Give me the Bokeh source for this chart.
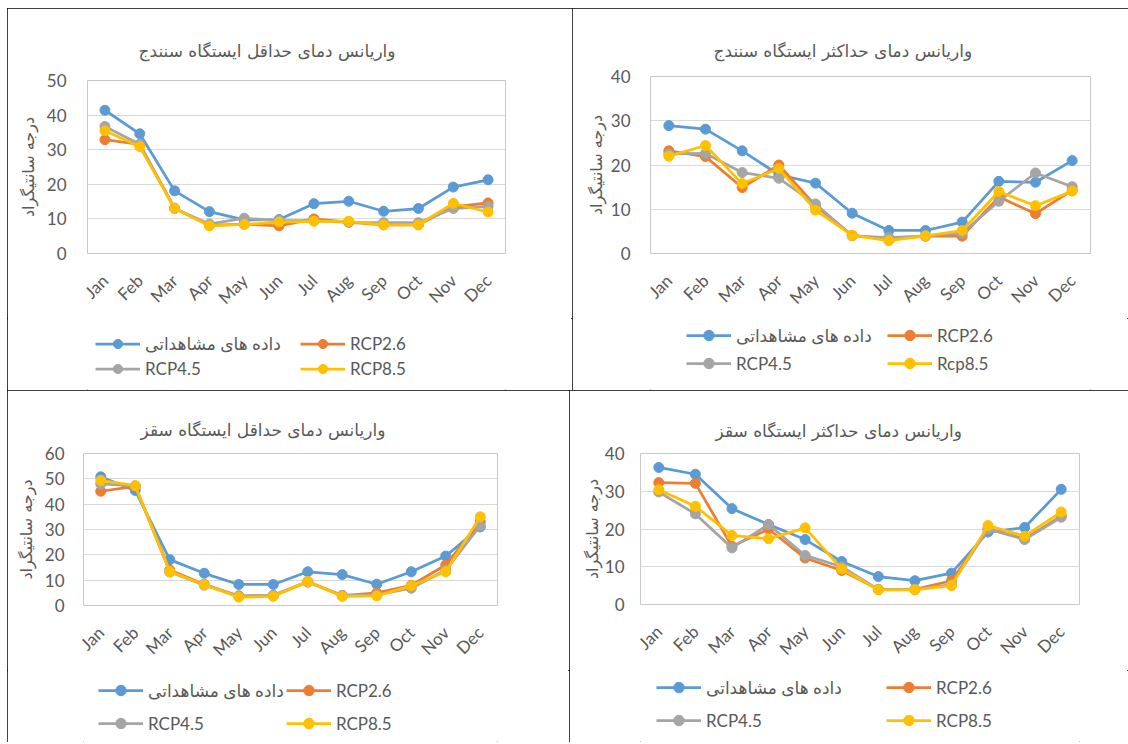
import math
from bokeh.plotting import figure
from bokeh.models import Range1d, FactorRange, Legend, LegendItem, SingleIntervalTicker
from bokeh.layouts import row, column
from bokeh.embed import file_html
from bokeh.resources import INLINE

# ---------------- data ----------------
months = ["Jan", "Feb", "Mar", "Apr", "May", "Jun", "Jul", "Aug", "Sep", "Oct", "Nov", "Dec"]

labels_a = ["داده های مشاهداتی", "RCP2.6", "RCP4.5", "RCP8.5"]
labels_b = ["داده های مشاهداتی", "RCP2.6", "RCP4.5", "Rcp8.5"]
y_label = "درجه سانتیگراد"

title_sanandaj_min = "واریانس دمای حداقل ایستگاه سنندج"
title_sanandaj_max = "واریانس دمای حداکثر ایستگاه سنندج"
title_saqqez_min = "واریانس دمای حداقل ایستگاه سقز"
title_saqqez_max = "واریانس دمای حداکثر ایستگاه سقز"

# Sanandaj - minimum temperature variance
sanandaj_min_obs = [41.4, 34.6, 18.1, 12.1, 9.7, 9.8, 14.4, 15.1, 12.2, 13.0, 19.2, 21.3]
sanandaj_min_rcp26 = [32.9, 31.5, 13.1, 8.1, 8.5, 8.0, 10.0, 9.1, 8.3, 8.3, 13.5, 14.6]
sanandaj_min_rcp45 = [36.7, 31.6, 13.0, 8.5, 10.2, 9.5, 9.5, 9.0, 8.9, 8.9, 13.0, 13.6]
sanandaj_min_rcp85 = [35.5, 30.9, 13.0, 8.0, 8.4, 9.1, 9.3, 9.3, 8.3, 8.3, 14.5, 12.0]

# Sanandaj - maximum temperature variance
sanandaj_max_obs = [28.9, 28.1, 23.2, 17.8, 15.9, 9.1, 5.2, 5.2, 7.1, 16.3, 16.1, 21.0]
sanandaj_max_rcp26 = [23.2, 21.9, 14.9, 20.0, 10.8, 4.1, 3.3, 3.9, 3.9, 12.8, 9.0, 14.3]
sanandaj_max_rcp45 = [22.5, 22.6, 18.3, 17.0, 11.2, 4.0, 3.6, 4.0, 4.6, 11.8, 18.2, 15.1]
sanandaj_max_rcp85 = [22.0, 24.4, 15.8, 19.2, 9.8, 4.1, 2.9, 4.0, 5.2, 14.0, 10.8, 14.1]

# Saqqez - minimum temperature variance
saqqez_min_obs = [50.8, 45.4, 18.1, 12.7, 8.3, 8.3, 13.3, 12.2, 8.4, 13.3, 19.5, 31.0]
saqqez_min_rcp26 = [45.1, 47.0, 14.0, 8.4, 3.7, 4.0, 9.5, 3.9, 5.0, 8.0, 16.0, 33.0]
saqqez_min_rcp45 = [48.0, 47.2, 13.2, 8.0, 3.8, 4.0, 9.2, 4.0, 4.2, 6.8, 14.0, 31.5]
saqqez_min_rcp85 = [49.4, 47.3, 13.4, 8.2, 3.3, 3.6, 9.5, 3.6, 3.8, 7.8, 13.3, 35.0]

# Saqqez - maximum temperature variance
saqqez_max_obs = [36.3, 34.5, 25.4, 21.2, 17.2, 11.4, 7.4, 6.3, 8.3, 19.2, 20.4, 30.5]
saqqez_max_rcp26 = [32.3, 32.1, 15.4, 20.0, 12.3, 9.0, 4.0, 4.0, 6.3, 20.0, 17.4, 23.4]
saqqez_max_rcp45 = [29.8, 24.0, 15.0, 21.2, 13.0, 10.0, 4.0, 4.0, 5.3, 20.0, 17.2, 23.1]
saqqez_max_rcp85 = [30.4, 26.0, 18.3, 17.4, 20.3, 9.4, 3.9, 3.9, 5.0, 20.9, 18.1, 24.5]

# ---------------- style ----------------
COLORS = ["#5B9BD5", "#ED7D31", "#A5A5A5", "#FFC000"]
TXT = "#595959"
LATIN = "Lato, DejaVu Sans, sans-serif"
PERSIAN = "DejaVu Sans, sans-serif"
NAN = float("nan")


def make_panel(title, ymax, series, labels, w, h_chart, h_leg, bl, br, bt, bb,
               t_off, t_stand, tick_stand, lab_stand, leg):
    p = figure(width=w, height=h_chart, x_range=FactorRange(*months), y_range=Range1d(0, ymax),
               output_backend="svg", toolbar_location=None,
               min_border_left=bl, min_border_right=br, min_border_top=bt, min_border_bottom=bb)
    p.background_fill_color = "white"
    p.border_fill_color = "white"
    p.outline_line_color = "#C8C8C8"
    p.outline_line_width = 1

    p.title.text = title
    p.title.text_font = PERSIAN
    p.title.text_font_size = "17px"
    p.title.text_font_style = "normal"
    p.title.text_color = TXT
    p.title.align = "left"
    p.title.offset = t_off
    if "standoff" in p.title.properties():
        p.title.standoff = t_stand

    p.xgrid.grid_line_color = None
    p.ygrid.grid_line_color = "#D9D9D9"
    p.ygrid.grid_line_width = 1

    p.yaxis.ticker = SingleIntervalTicker(interval=10)
    p.yaxis.axis_line_color = None
    p.yaxis.major_tick_line_color = None
    p.yaxis.minor_tick_line_color = None
    p.yaxis.major_label_text_font = LATIN
    p.yaxis.major_label_text_font_size = "17px"
    p.yaxis.major_label_text_color = TXT
    p.yaxis.major_label_standoff = tick_stand
    p.yaxis.axis_label = y_label
    p.yaxis.axis_label_text_font = PERSIAN
    p.yaxis.axis_label_text_font_size = "16px"
    p.yaxis.axis_label_text_font_style = "normal"
    p.yaxis.axis_label_text_color = TXT
    p.yaxis.axis_label_standoff = lab_stand

    p.xaxis.axis_line_color = None
    p.xaxis.major_tick_line_color = None
    p.xaxis.minor_tick_line_color = None
    p.xaxis.major_label_orientation = math.pi / 4
    p.xaxis.major_label_text_font = LATIN
    p.xaxis.major_label_text_font_size = "17px"
    p.xaxis.major_label_text_color = TXT
    p.xaxis.major_label_standoff = 18

    for vals, col in zip(series, COLORS):
        p.line(months, vals, line_color=col, line_width=2.75)
        p.scatter(months, vals, size=10, fill_color=col, line_color=col)

    # legend strip below the chart (a figure without axes that only holds the legend)
    gx, center, gap, rowgap = leg
    spacing = 2
    item_h = rowgap - spacing
    glyph_h = min(item_h, 26)
    leg_h = 2 * item_h + spacing
    top = center - item_h / 2.0
    lf = figure(width=w, height=h_leg, output_backend="svg", toolbar_location=None,
                x_axis_type=None, y_axis_type=None,
                x_range=Range1d(0, 1), y_range=Range1d(0, 1),
                min_border_left=bl, min_border_top=0, min_border_right=0, min_border_bottom=0)
    lf.grid.visible = False
    lf.outline_line_color = None
    lf.background_fill_color = "white"
    lf.border_fill_color = "white"
    items = []
    for lab, col in zip(labels, COLORS):
        ln = lf.line(x=[NAN], y=[NAN], line_color=col, line_width=2.75)
        sc = lf.scatter(x=[NAN], y=[NAN], size=10, fill_color=col, line_color=col)
        items.append(LegendItem(label=lab, renderers=[ln, sc]))
    legend = Legend(items=items, location=(gx, h_leg - top - leg_h),
                    orientation="horizontal", ncols=2,
                    glyph_width=45, glyph_height=glyph_h, label_height=item_h,
                    label_width=gap - 50 - spacing, label_standoff=5, spacing=spacing,
                    padding=0, margin=0, border_line_color=None, background_fill_alpha=0,
                    label_text_font=LATIN, label_text_font_size="17px", label_text_color=TXT)
    lf.add_layout(legend, "center")

    panel = column(p, lf, spacing=0)
    panel.styles = {"outline": "1px solid black", "outline-offset": "-1px"}
    return panel


# TL
p_tl = make_panel(title_sanandaj_min, 50,
                  [sanandaj_min_obs, sanandaj_min_rcp26, sanandaj_min_rcp45, sanandaj_min_rcp85],
                  labels_a, 565, 310, 72, 80, 67, 72, 63, 51, 39, 15, 6, (8, 25, 205, 25))
# TR
p_tr = make_panel(title_sanandaj_max, 40,
                  [sanandaj_max_obs, sanandaj_max_rcp26, sanandaj_max_rcp45, sanandaj_max_rcp85],
                  labels_b, 556, 310, 72, 78, 38, 68, 64, 63, 32, 14, 2, (36, 17, 201, 28))
# BL
p_bl = make_panel(title_saqqez_min, 60,
                  [saqqez_min_obs, saqqez_min_rcp26, saqqez_min_rcp45, saqqez_min_rcp85],
                  labels_a, 562, 280, 72, 76, 72, 63, 59, 57, 28, 13, 6, (15, 20, 182, 33))
# BR
p_br = make_panel(title_saqqez_max, 40,
                  [saqqez_max_obs, saqqez_max_rcp26, saqqez_max_rcp45, saqqez_max_rcp85],
                  labels_a, 559, 280, 72, 71, 49, 63, 66, 75, 25, 10, 0, (16, 17, 230, 33))

layout = column(row(p_tl, p_tr), row(p_bl, p_br), margin=(8, 0, 0, 7))
open("out.html", "w").write(file_html(layout, INLINE))
